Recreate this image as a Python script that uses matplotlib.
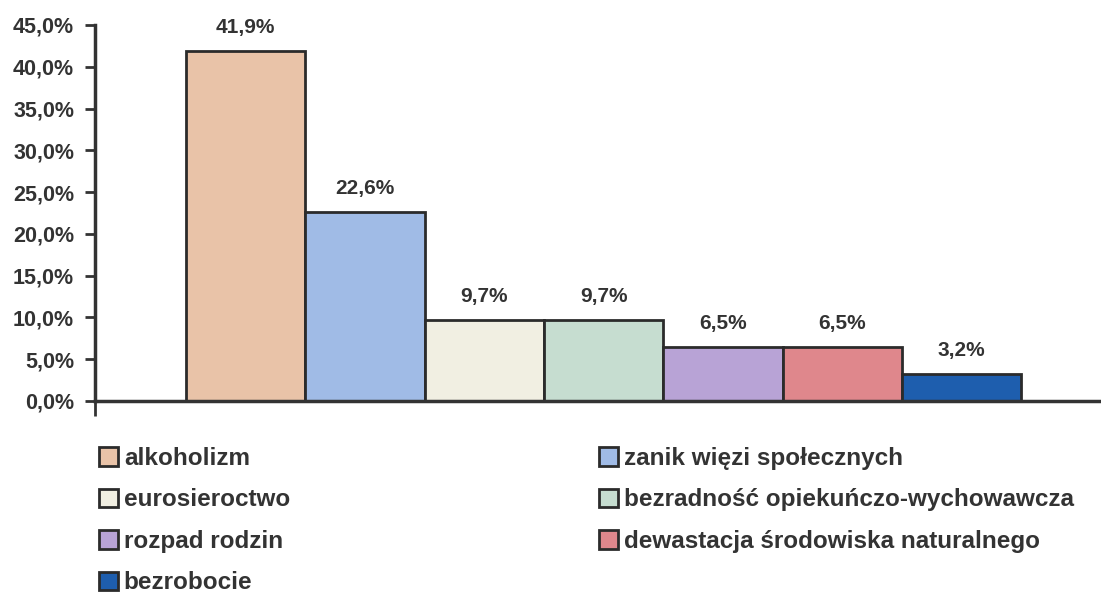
import matplotlib
matplotlib.use("Agg")
from matplotlib import pyplot as plt

plt.rcParams['font.family'] = ['Liberation Sans', 'DejaVu Sans']
plt.rcParams['font.weight'] = 'bold'

# dane
kategorie = ["alkoholizm", "zanik więzi społecznych", "eurosieroctwo",
             "bezradność opiekuńczo-wychowawcza", "rozpad rodzin",
             "dewastacja środowiska naturalnego", "bezrobocie"]
wartosci = [41.9, 22.6, 9.7, 9.7, 6.5, 6.5, 3.2]
kolory = ["#e9c3a8", "#a0bbe6", "#f1efe2", "#c6ddd0", "#b8a3d6", "#df878c", "#1e5eae"]
yticki = [0, 5, 10, 15, 20, 25, 30, 35, 40, 45]

tekst = "#333333"

fig = plt.figure(figsize=(11.01, 5.98), dpi=100)
ax = fig.add_axes([95 / 1101, 1 - 401 / 598, 1005 / 1101, 376 / 598])

bary = []
for i, (k, v, c) in enumerate(zip(kategorie, wartosci, kolory)):
    b = ax.bar(i + 0.5, v, width=1.0, color=c, edgecolor="#2b2b2b", linewidth=2, label=k)
    bary.append(b[0])
    ax.annotate(f"{v:.1f}%".replace(".", ","), (i + 0.5, v), xytext=(0, 10),
                textcoords="offset points", ha="center", va="bottom",
                fontsize=15, fontweight="bold", color=tekst)

ax.set_xlim(-0.763, 7.66)
ax.set_ylim(0, 45)
ax.set_yticks(yticki)
ax.set_yticklabels([f"{t:.1f}%".replace(".", ",") for t in yticki],
                   fontsize=15.5, fontweight="bold", color=tekst)
ax.set_xticks([-0.763])
ax.set_xticklabels([""])
ax.tick_params(axis="y", direction="out", length=7, width=2, color="#333333", pad=8)
ax.tick_params(axis="x", direction="out", length=11, width=2, color="#333333")

for s in ["top", "right"]:
    ax.spines[s].set_visible(False)
for s in ["left", "bottom"]:
    ax.spines[s].set_linewidth(2.5)
    ax.spines[s].set_color("#333333")

# legenda w dwóch kolumnach
lewa = [0, 2, 4, 6]
prawa = [1, 3, 5]
wsp = dict(loc="upper left", frameon=False, fontsize=17.5, handlelength=0.8,
           handleheight=0.8, handletextpad=0.22, labelspacing=0.76,
           borderpad=0, borderaxespad=0, labelcolor=tekst)
fig.legend([bary[i] for i in lewa], [kategorie[i] for i in lewa],
           bbox_to_anchor=(99 / 1101, 1 - 447 / 598), **wsp)
fig.legend([bary[i] for i in prawa], [kategorie[i] for i in prawa],
           bbox_to_anchor=(599 / 1101, 1 - 447 / 598), **wsp)

fig.savefig("out.png", dpi=100)
